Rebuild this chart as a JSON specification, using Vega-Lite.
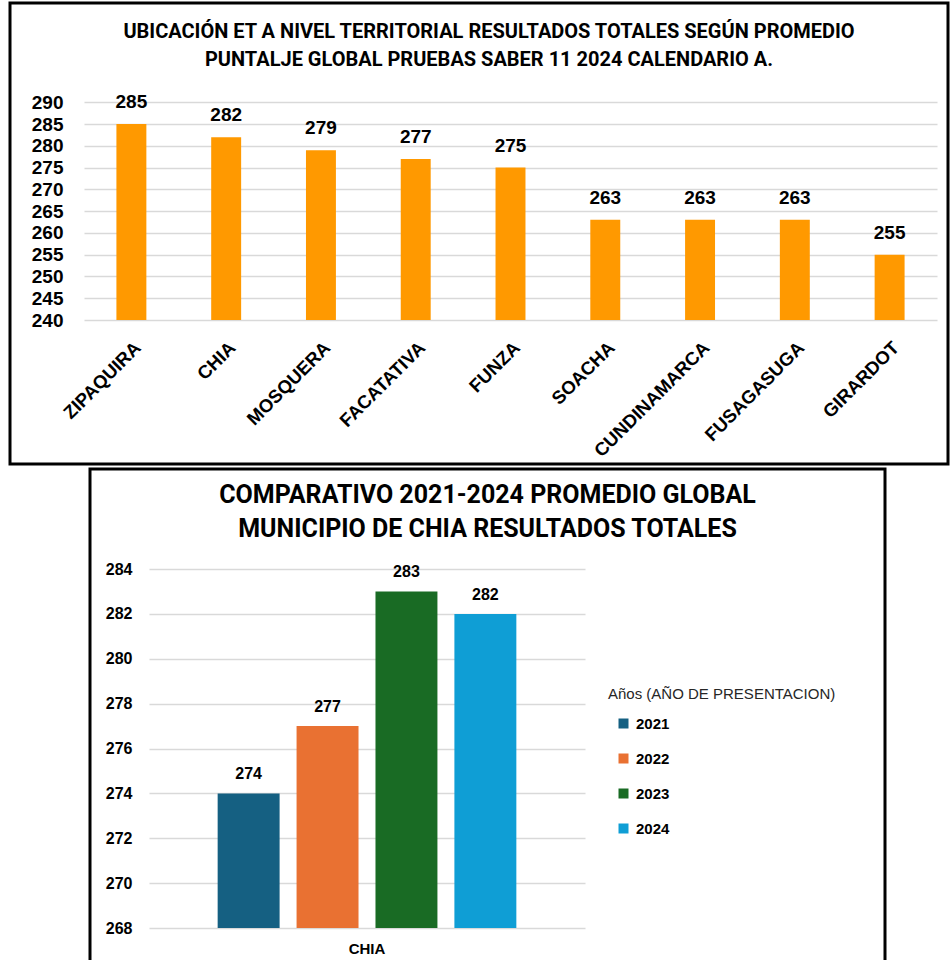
{
  "$schema": "https://vega.github.io/schema/vega-lite/v6.json",
  "padding": {"left": 8, "top": 1, "right": 0, "bottom": 0},
  "background": "white",
  "config": {
    "view": {"stroke": "black", "strokeWidth": 3},
    "axis": {"labelFont": "Liberation Sans", "labelFontWeight": "bold", "labelColor": "black", "ticks": false, "domain": false, "title": null, "gridColor": "#d9d9d9", "gridWidth": 1.5}
  },
  "datasets": {
    "territorial": [
      {"municipio": "ZIPAQUIRA", "puntaje": 285},
      {"municipio": "CHIA", "puntaje": 282},
      {"municipio": "MOSQUERA", "puntaje": 279},
      {"municipio": "FACATATIVA", "puntaje": 277},
      {"municipio": "FUNZA", "puntaje": 275},
      {"municipio": "SOACHA", "puntaje": 263},
      {"municipio": "CUNDINAMARCA", "puntaje": 263},
      {"municipio": "FUSAGASUGA", "puntaje": 263},
      {"municipio": "GIRARDOT", "puntaje": 255}
    ],
    "chia": [
      {"municipio": "CHIA", "anio": "2021", "promedio": 274},
      {"municipio": "CHIA", "anio": "2022", "promedio": 277},
      {"municipio": "CHIA", "anio": "2023", "promedio": 283},
      {"municipio": "CHIA", "anio": "2024", "promedio": 282}
    ]
  },
  "spacing": 1,
  "resolve": {"scale": {"color": "independent"}, "legend": {"color": "independent"}},
  "vconcat": [
    {
      "width": 938,
      "height": 461,
      "data": {"name": "territorial"},
      "title": {
        "text": ["UBICACIÓN ET A NIVEL TERRITORIAL RESULTADOS TOTALES SEGÚN PROMEDIO", "PUNTALJE GLOBAL PRUEBAS SABER 11 2024 CALENDARIO A."],
        "font": "Roboto",
        "fontSize": 20,
        "fontWeight": "bold",
        "color": "black",
        "anchor": "middle",
        "frame": "group",
        "offset": -67,
        "lineHeight": 28,
        "dx": 10
      },
      "encoding": {
        "x": {
          "field": "municipio", "type": "nominal", "sort": null,
          "scale": {"range": [74, 927], "paddingInner": 0, "paddingOuter": 0},
          "axis": {"orient": "bottom", "offset": -144, "labelAngle": -45, "labelPadding": 18, "labelFontSize": 18.5, "labelLimit": 0}
        },
        "y": {
          "field": "puntaje", "type": "quantitative",
          "scale": {"domain": [206.93, 312.81], "nice": false, "zero": false},
          "axis": {"orient": "left", "offset": -74, "labelPadding": 21, "labelFontSize": 19, "values": [240, 245, 250, 255, 260, 265, 270, 275, 280, 285, 290], "grid": true}
        }
      },
      "layer": [
        {
          "mark": {"type": "bar", "color": "#FF9900", "width": {"band": 0.316}},
          "encoding": {"y2": {"datum": 240}}
        },
        {
          "mark": {"type": "text", "font": "Liberation Sans", "fontWeight": "bold", "fontSize": 19, "dy": -16, "baseline": "alphabetic", "color": "black"},
          "encoding": {"text": {"field": "puntaje", "type": "quantitative"}}
        }
      ]
    },
    {
      "spacing": 20,
      "resolve": {"scale": {"color": "independent"}, "legend": {"color": "independent"}},
      "hconcat": [
        {
          "width": 58,
          "height": 10,
          "data": {"values": [{}]},
          "mark": {"type": "point", "opacity": 0},
          "encoding": {},
          "view": {"stroke": null}
        },
        {
          "width": 795,
          "height": 494,
          "data": {"name": "chia"},
          "title": {
            "text": ["COMPARATIVO 2021-2024 PROMEDIO GLOBAL", "MUNICIPIO DE CHIA RESULTADOS TOTALES"],
            "font": "Roboto",
            "fontSize": 25,
            "fontWeight": "bold",
            "color": "black",
            "anchor": "middle",
            "frame": "group",
            "offset": -73,
            "lineHeight": 34
          },
          "encoding": {
            "x": {
              "field": "municipio", "type": "nominal",
              "scale": {"range": [59, 495], "paddingInner": 0, "paddingOuter": 0},
              "axis": {"orient": "bottom", "offset": -35, "labelAngle": 0, "labelPadding": 13, "labelFontSize": 15}
            },
            "xOffset": {"field": "anio", "type": "nominal", "scale": {"paddingInner": 0.215, "paddingOuter": 0.87}},
            "y": {
              "field": "promedio", "type": "quantitative",
              "scale": {"domain": [266.44, 288.46], "nice": false, "zero": false},
              "axis": {"orient": "left", "offset": -59, "labelPadding": 17, "labelFontSize": 16, "values": [268, 270, 272, 274, 276, 278, 280, 282, 284], "grid": true}
            }
          },
          "layer": [
            {
              "mark": {"type": "bar"},
              "encoding": {
                "y2": {"datum": 268},
                "color": {
                  "field": "anio", "type": "nominal",
                  "scale": {"domain": ["2021", "2022", "2023", "2024"], "range": ["#156082", "#E97132", "#196B24", "#0F9ED5"]},
                  "legend": {
                    "title": "Años (AÑO DE PRESENTACION)",
                    "orient": "none",
                    "legendX": 518,
                    "legendY": 218,
                    "titleFont": "Liberation Sans",
                    "titleFontWeight": "normal",
                    "titleFontSize": 15,
                    "titleColor": "#262626",
                    "titlePadding": 14,
                    "titleLimit": 0,
                    "labelFont": "Liberation Sans",
                    "labelFontWeight": "bold",
                    "labelFontSize": 15,
                    "labelColor": "black",
                    "labelOffset": 5,
                    "symbolType": "square",
                    "symbolSize": 100,
                    "symbolOffset": 8,
                    "symbolStrokeWidth": 0,
                    "rowPadding": 19
                  }
                }
              }
            },
            {
              "mark": {"type": "text", "font": "Liberation Sans", "fontWeight": "bold", "fontSize": 16, "dy": -14, "baseline": "alphabetic", "color": "black"},
              "encoding": {"text": {"field": "promedio", "type": "quantitative"}}
            }
          ]
        }
      ]
    }
  ]
}
